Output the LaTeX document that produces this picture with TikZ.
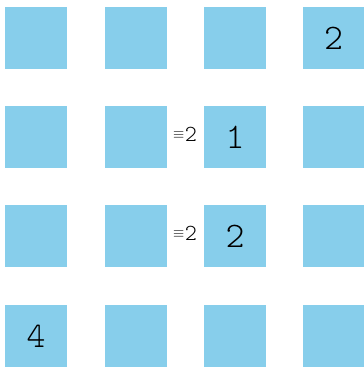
\documentclass[tikz,border=0pt]{standalone}
\usepackage{fontspec}
\newfontfamily\lmlight{lmmonolt10-regular.otf}
\definecolor{cellblue}{HTML}{87CEEB}
\tikzset{
  cell/.style={fill=cellblue, draw=none, minimum width=62pt, minimum height=62pt, inner sep=0pt},
  num/.style={inner sep=0pt, font=\lmlight\fontsize{36}{36}\selectfont},
  tag/.style={inner sep=0pt, font=\lmlight\fontsize{23}{23}\selectfont}
}
\newcommand{\eqtag}{\raisebox{2.5pt}{\fontsize{14}{14}\selectfont$\equiv$}\kern0.5pt 2}
\begin{document}
\begin{tikzpicture}[x=1pt,y=-1pt]
\useasboundingbox (0,0) rectangle (364,370);
\foreach \c/\x in {1/36,2/136,3/235,4/333.5}{
  \foreach \r/\y in {1/38,2/137,3/236,4/336}{
    \node[cell] (c\r\c) at (\x,\y) {};
  }
}
\node[num] (n14) at (c14) {2};
\node[num] (n23) at (c23) {1};
\node[num] (n33) at (c33) {2};
\node[num] (n41) at (c41) {4};
\node[tag] (t2) at (185,134) {\eqtag};
\node[tag] (t3) at (185,233) {\eqtag};
\end{tikzpicture}
\end{document}
